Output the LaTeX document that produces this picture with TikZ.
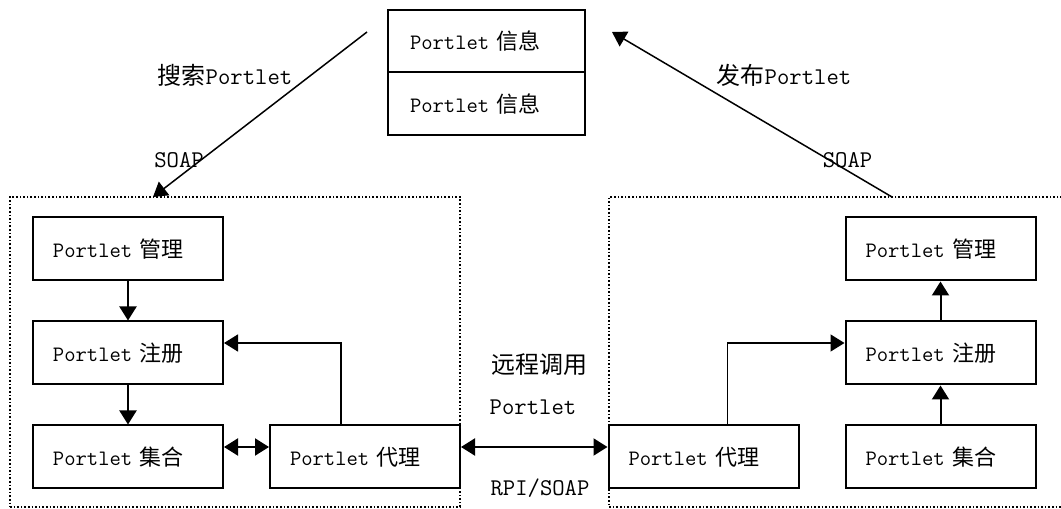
\documentclass[tikz,border=0pt]{standalone}
\usepackage{fontspec}
\newfontfamily\cjk{Noto Sans CJK SC}
\usepackage{tikz}
\usetikzlibrary{arrows.meta,positioning}
\newcommand{\zh}[1]{{\cjk #1}}

\begin{document}
\begin{tikzpicture}[x=1pt,y=1pt,->,>={Triangle[length=7pt,width=8.5pt]},node distance=19.5pt and 22.5pt,
	font=\ttfamily\fontsize{11}{13}\selectfont]

		\tikzstyle{box}=[draw,line width=1pt,text width=75pt,inner xsep=10pt,minimum height=31.5pt,align=left]
		\tikzstyle{infobox}=[box,text width=76.5pt,inner xsep=11pt,minimum height=31.25pt]
		\tikzstyle{group}=[-,densely dotted,line width=0.8pt]
		\tikzstyle{lbl}=[font=\ttfamily\fontsize{12}{14}\selectfont,inner sep=1pt]

		\useasboundingbox (0,0) rectangle (530.5,254.5);

		% registry
		\node[infobox] (info1) at (243.25,233.9) {Portlet \zh{信息}};
		\node[infobox] (info2) [below=-1pt of info1] {Portlet \zh{信息}};

		% left side
		\node[box] (mgrL)                  at (64,130) {Portlet \zh{管理}};
		\node[box] (regL) [below=of mgrL]  {Portlet \zh{注册}};
		\node[box] (colL) [below=of regL]  {Portlet \zh{集合}};
		\node[box] (prxL) [right=of colL]  {Portlet \zh{代理}};

		% right side
		\node[box] (prxR)                  at (351.75,26) {Portlet \zh{代理}};
		\node[box] (colR) [right=of prxR]  {Portlet \zh{集合}};
		\node[box] (regR) [above=of colR]  {Portlet \zh{注册}};
		\node[box] (mgrR) [above=of regR]  {Portlet \zh{管理}};

		\node[group,draw,minimum width=225pt,minimum height=155pt] (sysL) at (117.5,78.5) {};
		\draw[group] (531,156) -| (304.5,1) -- (531,1);

		\coordinate (findstart) at (183.5,238.5);
		\coordinate (findend)   at (76.5,156);
		\coordinate (pubstart)  at (446,156);
		\coordinate (pubend)    at (306,238.5);

		\node[lbl] (findlbl)  at (112.5,217)  {\zh{搜索}Portlet};
		\node[lbl] (soapL)    at (89.5,174.5) {SOAP};
		\node[lbl] (publbl)   at (392,217)    {\zh{发布}Portlet};
		\node[lbl] (soapR)    at (423.75,174.5) {SOAP};
		\node[lbl] (rpclbl)   at (269.5,72)   {\zh{远程调用}};
		\node[lbl] (rpclbl2)  at (266.5,51)   {Portlet};
		\node[lbl] (rpilbl)   at (270,10.5)   {RPI/SOAP};

		\draw[line width=0.75pt] (findstart) -- (findend);
		\draw[line width=0.75pt] (pubstart) -- (pubend);

		\draw[line width=1pt] (mgrL) -- (regL);
		\draw[line width=1pt] (regL) -- (colL);
		\draw[line width=1pt,<->] ([yshift=5pt]colL.east) -- ([yshift=5pt]prxL.west);
		\draw[line width=0.75pt] ([xshift=-12pt]prxL.north) |- ([yshift=5pt]regL.east);
		\draw[line width=1pt,<->] ([yshift=5pt]prxL.east) -- ([yshift=5pt]prxR.west);
		\draw[line width=0.75pt] ([xshift=12pt]prxR.north) |- ([yshift=5pt]regR.west);
		\draw[line width=1pt] (colR) -- (regR);
		\draw[line width=1pt] (regR) -- (mgrR);

	\end{tikzpicture}
\end{document}
